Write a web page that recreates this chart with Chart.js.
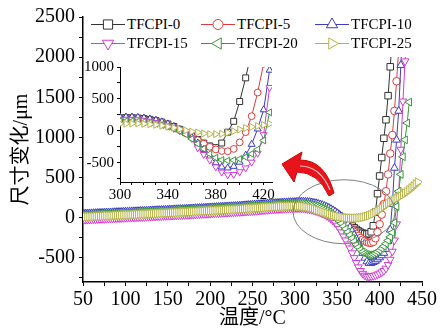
<!DOCTYPE html>
<html>
<head>
<meta charset="utf-8">
<title>TFCPI 尺寸变化</title>
<script src="https://cdn.jsdelivr.net/npm/chart.js@4.4.0/dist/chart.umd.min.js"></script>
<style>
  html, body { margin: 0; padding: 0; background: #fff; }
  #wrap { position: relative; width: 440px; height: 334px; overflow: hidden; }
  #mainChart { position: absolute; left: 0; top: 0; }
  #insetChart { position: absolute; left: 80px; top: 55px; }
  #legend {
    position: absolute; left: 86px; top: 10px; width: 350px; height: 47px;
    background: #fff; font: 400 15px "Liberation Serif", "Times New Roman", serif; color: #000;
  }
  .item { position: absolute; height: 18px; display: flex; align-items: center; white-space: nowrap; }
  .item canvas { display: block; margin-right: 1px; }
</style>
</head>
<body>
<div id="wrap">
  <canvas id="mainChart" width="440" height="334"></canvas>
  <div id="legend"></div>
  <canvas id="insetChart" width="200" height="150"></canvas>
</div>
<script>
// ============================================================
// Dimensional change vs temperature, TFCPI films (main + inset)
// ============================================================

const seriesNames = ['TFCPI-0', 'TFCPI-5', 'TFCPI-10', 'TFCPI-15', 'TFCPI-20', 'TFCPI-25'];

// --- main plot data: temperature (°C) and dimension change (μm) ---
const mainTemps = [
  50, 52.5, 55, 57.5, 60, 62.5, 65, 67.5, 70, 72.5,
  75, 77.5, 80, 82.5, 85, 87.5, 90, 92.5, 95, 97.5,
  100, 102.5, 105, 107.5, 110, 112.5, 115, 117.5, 120, 122.5,
  125, 127.5, 130, 132.5, 135, 137.5, 140, 142.5, 145, 147.5,
  150, 152.5, 155, 157.5, 160, 162.5, 165, 167.5, 170, 172.5,
  175, 177.5, 180, 182.5, 185, 187.5, 190, 192.5, 195, 197.5,
  200, 202.5, 205, 207.5, 210, 212.5, 215, 217.5, 220, 222.5,
  225, 227.5, 230, 232.5, 235, 237.5, 240, 242.5, 245, 247.5,
  250, 252.5, 255, 257.5, 260, 262.5, 265, 267.5, 270, 272.5,
  275, 277.5, 280, 282.5, 285, 287.5, 290, 292.5, 295, 297.5,
  300,
  302.5, 305, 307.5, 310, 312.5, 315, 317.5, 320, 322.5, 325,
  327.5, 330, 332.5, 335, 337.5, 340, 342.5, 345, 347.5, 350,
  352.5, 355, 357.5, 360, 362.5, 365, 367.5, 370, 372.5, 375,
  377.5, 380, 382.5, 385, 387.5, 390, 392.5, 395, 397.5, 400,
  402.5, 405, 407.5, 410, 412.5, 415, 417.5, 420, 422.5, 425,
  427.5, 430, 432.5, 435, 437.5, 440, 442.5, 445
];

const mainTFCPI0 = [
  45, 46, 47, 49, 50, 51, 52, 54, 55, 56,
  57, 59, 60, 61, 62, 64, 65, 66, 67, 69,
  70, 71, 72, 74, 75, 76, 77, 79, 80, 81,
  82, 84, 85, 86, 87, 89, 90, 91, 92, 94,
  95, 96, 97, 99, 100, 102, 103, 104, 105, 107,
  108, 110, 111, 113, 114, 116, 117, 119, 120, 122,
  123, 125, 126, 128, 129, 131, 132, 134, 135, 137,
  138, 140, 141, 143, 145, 147, 149, 151, 153, 155,
  157, 159, 161, 163, 165, 167, 169, 171, 173, 175,
  177, 179, 180, 182, 183, 185, 186, 188, 189, 190,
  191,
  193, 194, 194, 193, 191, 188, 184, 179, 173, 166,
  158, 149, 139, 128, 116, 103, 89, 74, 58, 41,
  23, 4, -16, -37, -58, -80, -102, -124, -145, -164,
  -180, -192, -200, -203, -198, -175, -100, 70, 300, 520,
  750, 990, 1220, 1520, 1880, 2250, 2620, null, null, null,
  null, null, null, null, null, null, null, null
];

const mainTFCPI5 = [
  5, 6, 7, 8, 10, 11, 12, 13, 14, 15,
  16, 17, 18, 19, 20, 21, 22, 23, 24, 25,
  26, 27, 29, 30, 31, 32, 33, 34, 35, 36,
  37, 38, 40, 41, 42, 43, 44, 45, 47, 48,
  50, 51, 53, 54, 56, 57, 59, 60, 62, 63,
  65, 66, 68, 69, 71, 72, 74, 75, 77, 78,
  80, 82, 84, 86, 88, 90, 92, 94, 96, 98,
  100, 102, 104, 106, 108, 110, 112, 114, 117, 119,
  122, 124, 127, 129, 132, 134, 137, 139, 142, 144,
  147, 149, 152, 154, 157, 159, 162, 164, 166, 168,
  170,
  172, 173, 173, 172, 170, 167, 163, 158, 152, 145,
  137, 128, 118, 107, 95, 82, 68, 52, 35, 17,
  -3, -25, -48, -72, -97, -123, -150, -177, -203, -228,
  -252, -273, -290, -303, -311, -312, -300, -255, -180, -80,
  40, 170, 330, 540, 800, 1030, 1330, 1700, 2100, 2500,
  2900, null, null, null, null, null, null, null
];

const mainTFCPI10 = [
  50, 51, 52, 54, 55, 56, 57, 59, 60, 61,
  62, 64, 65, 66, 67, 69, 70, 71, 72, 74,
  75, 76, 77, 79, 80, 81, 82, 84, 85, 86,
  87, 89, 90, 91, 92, 94, 95, 96, 97, 99,
  100, 101, 102, 104, 105, 107, 108, 109, 110, 112,
  113, 115, 116, 118, 119, 121, 122, 124, 125, 127,
  128, 130, 131, 133, 134, 136, 137, 139, 140, 142,
  143, 145, 146, 148, 150, 152, 154, 156, 158, 160,
  162, 164, 166, 168, 170, 172, 174, 176, 178, 180,
  182, 184, 185, 187, 188, 190, 191, 193, 194, 195,
  196,
  198, 200, 200, 200, 199, 197, 194, 190, 185, 180,
  173, 165, 156, 146, 135, 122, 108, 92, 75, 55,
  33, 10, -15, -45, -80, -120, -165, -215, -265, -320,
  -380, -440, -500, -545, -565, -565, -555, -540, -520, -495,
  -470, -440, -390, -290, -150, 170, 620, 970, 1330, 1900,
  2400, 2900, null, null, null, null, null, null
];

const mainTFCPI15 = [
  -25, -24, -23, -21, -20, -19, -18, -16, -15, -14,
  -13, -11, -10, -9, -8, -6, -5, -4, -3, -1,
  0, 1, 2, 4, 5, 6, 7, 9, 10, 11,
  12, 14, 15, 16, 17, 19, 20, 21, 23, 24,
  25, 26, 28, 29, 30, 32, 33, 35, 36, 37,
  38, 40, 41, 42, 44, 45, 47, 48, 49, 51,
  52, 54, 55, 57, 58, 60, 61, 63, 64, 66,
  67, 69, 70, 72, 73, 75, 76, 78, 80, 82,
  84, 86, 88, 90, 92, 94, 96, 98, 100, 102,
  104, 106, 108, 110, 111, 113, 114, 116, 117, 118,
  119,
  120, 120, 119, 117, 114, 110, 105, 99, 92, 84,
  75, 65, 53, 40, 25, 8, -12, -35, -62, -95,
  -135, -180, -230, -280, -330, -380, -440, -500, -560, -615,
  -660, -695, -718, -730, -732, -728, -722, -715, -705, -692,
  -678, -660, -630, -585, -520, -420, -280, -80, 300, 850,
  1450, 1950, 2400, 2900, null, null, null, null
];

const mainTFCPI20 = [
  35, 36, 37, 39, 40, 41, 42, 44, 45, 46,
  47, 49, 50, 51, 52, 54, 55, 56, 57, 59,
  60, 61, 62, 64, 65, 66, 67, 69, 70, 71,
  72, 74, 75, 76, 77, 79, 80, 81, 82, 84,
  85, 86, 87, 89, 90, 92, 93, 94, 95, 97,
  98, 100, 101, 103, 104, 106, 107, 109, 110, 112,
  113, 115, 116, 118, 119, 121, 122, 124, 125, 127,
  128, 130, 131, 133, 135, 137, 139, 141, 143, 145,
  147, 149, 151, 153, 155, 157, 159, 161, 163, 165,
  167, 169, 170, 172, 173, 175, 176, 177, 178, 179,
  180,
  181, 181, 180, 178, 175, 171, 166, 160, 153, 145,
  136, 126, 114, 101, 86, 70, 52, 32, 10, -15,
  -42, -72, -105, -140, -177, -215, -255, -295, -333, -368,
  -400, -425, -445, -457, -462, -460, -452, -440, -424, -405,
  -382, -355, -322, -283, -238, -185, -60, 140, 330, 540,
  760, 970, 1180, 1440, null, null, null, null
];

const mainTFCPI25 = [
  10, 11, 12, 14, 15, 16, 17, 19, 20, 21,
  22, 24, 25, 26, 27, 29, 30, 31, 32, 34,
  35, 36, 37, 39, 40, 41, 42, 44, 45, 46,
  47, 49, 50, 51, 52, 54, 55, 56, 57, 59,
  60, 61, 63, 64, 65, 67, 68, 70, 71, 72,
  73, 75, 76, 78, 79, 81, 82, 84, 85, 86,
  87, 89, 90, 92, 93, 95, 96, 98, 99, 101,
  102, 104, 105, 107, 108, 110, 111, 113, 115, 117,
  118, 120, 122, 124, 125, 127, 129, 131, 132, 134,
  135, 137, 138, 140, 141, 142, 143, 144, 145, 146,
  146,
  146, 145, 143, 140, 136, 131, 125, 118, 110, 102,
  93, 84, 75, 66, 57, 48, 40, 32, 25, 18,
  12, 7, 3, 0, -2, -4, -5, -5, -4, -2,
  1, 5, 11, 18, 27, 38, 51, 66, 83, 101,
  120, 140, 159, 177, 194, 210, 225, 240, 255, 270,
  287, 305, 325, 347, 370, 395, 420, 445
];

// --- inset data (300-425 °C) ---
const insetTemps = [
  300, 305, 310, 315, 320, 325, 330, 335, 340, 345,
  350, 355, 360, 365, 370, 375, 380, 385, 390, 395,
  400, 405, 410, 415, 420, 425
];
const insetTFCPI0 = [205, 207, 206, 202, 193, 180, 162, 138, 108, 70,
  25, -25, -80, -135, -190, -235, -262, -190, -20, 150,
  460, 830, 1250, null, null, null];
const insetTFCPI5 = [190, 192, 190, 185, 176, 162, 143, 118, 88, 52,
  10, -38, -90, -145, -200, -250, -290, -315, -318, -282,
  -180, -20, 230, 600, 1050, null];
const insetTFCPI10 = [215, 218, 217, 212, 203, 188, 168, 142, 110, 70,
  22, -35, -105, -190, -290, -400, -500, -565, -580, -555,
  -490, -380, -210, 30, 330, 950];
const insetTFCPI15 = [180, 182, 180, 175, 165, 150, 130, 105, 75, 40,
  0, -35, -120, -265, -370, -455, -565, -645, -688, -682,
  -640, -580, -490, -350, -60, 680];
const insetTFCPI20 = [150, 152, 152, 148, 140, 128, 112, 92, 66, 35,
  0, -55, -125, -200, -280, -360, -420, -455, -465, -458,
  -440, -410, -360, -290, -150, 290];
const insetTFCPI25 = [110, 112, 115, 115, 110, 104, 95, 82, 66, 48,
  28, 8, -10, -25, -40, -50, -52, -45, -28, -5,
  22, 45, 62, 76, 92, 110];

// --- tick values ---
const mainXTicks = [50, 75, 100, 125, 150, 175, 200, 225, 250, 275, 300, 325, 350, 375, 400, 425, 450];
const mainYTicks = [-750, -500, -250, 0, 250, 500, 750, 1000, 1250, 1500, 1750, 2000, 2250, 2500];
const insetXTicks = [300, 310, 320, 330, 340, 350, 360, 370, 380, 390, 400, 410, 420];
const insetYTicks = [-750, -500, -250, 0, 250, 500, 750, 1000];

// --- styles ---
const COLORS = ['#333333', '#dd3b3b', '#3b3bc4', '#d23ad2', '#389838', '#b5b248'];
const POINT_STYLES = ['rect', 'circle', 'triangle', 'triangle', 'triangle', 'triangle'];
const POINT_ROT = [0, 0, 0, 180, 270, 90];
const MAIN_RADIUS = [4.6, 3.8, 4.5, 4.5, 4.5, 5];
const INSET_RADIUS = [4.2, 3.4, 4, 4, 4, 4];
const SERIF = "'Liberation Serif', 'Times New Roman', serif";
const CJK = "'Liberation Serif', 'Noto Sans CJK SC', serif";

const mainSeries = [mainTFCPI0, mainTFCPI5, mainTFCPI10, mainTFCPI15, mainTFCPI20, mainTFCPI25];
const insetSeries = [insetTFCPI0, insetTFCPI5, insetTFCPI10, insetTFCPI15, insetTFCPI20, insetTFCPI25];

function toPoints(xs, ys) {
  const pts = [];
  xs.forEach((x, i) => {
    if (ys[i] !== null) pts.push({ x: x, y: ys[i] });
  });
  return pts;
}

function buildDatasets(xs, seriesList, radii) {
  return seriesList.map((ys, i) => ({
    label: seriesNames[i],
    data: toPoints(xs, ys),
    borderColor: COLORS[i],
    backgroundColor: '#fff',
    borderWidth: 1,
    pointStyle: POINT_STYLES[i],
    pointRotation: POINT_ROT[i],
    pointRadius: radii[i],
    pointHoverRadius: radii[i],
    pointBorderWidth: 1,
    pointBorderColor: COLORS[i],
    pointBackgroundColor: '#fff',
    tension: 0,
    fill: false,
    order: 5 - i // TFCPI-25 ends up on top, like the original
  }));
}

function axis(opts) {
  return {
    type: 'linear',
    min: opts.min,
    max: opts.max,
    afterBuildTicks: (ax) => { ax.ticks = opts.ticks.map(v => ({ value: v })); },
    afterFit: opts.fit,
    grid: { drawOnChartArea: false, drawTicks: true, tickLength: opts.tickLen, color: '#000' },
    border: { display: true, color: '#000', width: opts.border },
    ticks: {
      autoSkip: false,
      maxRotation: 0,
      padding: opts.pad,
      color: '#000',
      font: { family: SERIF, size: opts.fontSize },
      callback: (v) => opts.showLabel(v) ? String(v) : ''
    },
    title: opts.title || { display: false }
  };
}

// ellipse + red arrow that point from the dip to the inset
const calloutPlugin = {
  id: 'callout',
  afterDatasetsDraw(chart) {
    const ctx = chart.ctx;
    const cx = chart.scales.x.getPixelForValue(358);
    const cy = chart.scales.y.getPixelForValue(75);
    ctx.save();
    ctx.beginPath();
    ctx.ellipse(cx, cy, 51, 32, 0, 0, Math.PI * 2);
    ctx.strokeStyle = '#808080';
    ctx.lineWidth = 1;
    ctx.stroke();

    // arrow
    ctx.beginPath();
    ctx.moveTo(282, 164);
    ctx.lineTo(302, 152);
    ctx.lineTo(300, 160);
    ctx.quadraticCurveTo(325, 160, 334, 193);
    ctx.lineTo(329, 196);
    ctx.quadraticCurveTo(318, 172, 297, 172);
    ctx.lineTo(294, 182);
    ctx.closePath();
    ctx.fillStyle = '#e8141b';
    ctx.fill();
    ctx.strokeStyle = '#d00000';
    ctx.lineWidth = 1;
    ctx.stroke();
    ctx.beginPath();
    ctx.moveTo(300, 166);
    ctx.quadraticCurveTo(320, 166, 330, 190);
    ctx.strokeStyle = '#ffd0d0';
    ctx.lineWidth = 1.2;
    ctx.stroke();
    ctx.restore();
  }
};

// main chart
new Chart(document.getElementById('mainChart'), {
  type: 'line',
  data: { datasets: buildDatasets(mainTemps, mainSeries, MAIN_RADIUS) },
  options: {
    responsive: false,
    animation: false,
    events: [],
    layout: { padding: { left: 0, right: 18, top: 17, bottom: 0 } },
    plugins: { legend: { display: false }, tooltip: { enabled: false } },
    scales: {
      x: axis({
        min: 50, max: 450, ticks: mainXTicks, tickLen: 4, border: 1.5, pad: 2, fontSize: 20,
        showLabel: v => v % 50 === 0,
        fit: (ax) => { ax.height = 52; },
        title: { display: true, text: '温度/°C', color: '#000',
          font: { family: CJK, size: 20 }, padding: { top: 0, bottom: 3 } }
      }),
      y: axis({
        min: -800, max: 2500, ticks: mainYTicks, tickLen: 4, border: 1.5, pad: 4, fontSize: 20,
        showLabel: v => v % 500 === 0,
        fit: (ax) => { ax.width = 83; },
        title: { display: true, text: '尺寸变化/μm', color: '#000',
          font: { family: CJK, size: 20 }, padding: { top: 10, bottom: 0 } }
      })
    }
  },
  plugins: [calloutPlugin]
});

// inset chart
new Chart(document.getElementById('insetChart'), {
  type: 'line',
  data: { datasets: buildDatasets(insetTemps, insetSeries, INSET_RADIUS) },
  options: {
    responsive: false,
    animation: false,
    events: [],
    layout: { padding: { left: 0, right: 8, top: 9, bottom: 0 } },
    plugins: { legend: { display: false }, tooltip: { enabled: false } },
    scales: {
      x: axis({
        min: 300, max: 427, ticks: insetXTicks, tickLen: 3, border: 1, pad: 1, fontSize: 15,
        showLabel: v => (v - 300) % 40 === 0,
        fit: (ax) => { ax.height = 23; }
      }),
      y: axis({
        min: -800, max: 1000, ticks: insetYTicks, tickLen: 3, border: 1, pad: 3, fontSize: 15,
        showLabel: v => v % 500 === 0,
        fit: (ax) => { ax.width = 40; }
      })
    }
  }
});

// legend (two rows, three columns, white box over the plot)
const legend = document.getElementById('legend');
const LEGEND_COL_X = [4, 114, 228];
const LEGEND_ROW_Y = [5, 24];
seriesNames.forEach((name, i) => {
  const item = document.createElement('div');
  item.className = 'item';
  item.style.left = LEGEND_COL_X[i % 3] + 'px';
  item.style.top = LEGEND_ROW_Y[Math.floor(i / 3)] + 'px';

  const sym = document.createElement('canvas');
  sym.width = 36; sym.height = 18;
  const c = sym.getContext('2d');
  c.strokeStyle = COLORS[i];
  c.lineWidth = 1;
  c.beginPath(); c.moveTo(1, 9.5); c.lineTo(35, 9.5); c.stroke();
  c.fillStyle = '#fff';
  Chart.helpers.drawPoint(c, {
    pointStyle: POINT_STYLES[i],
    rotation: POINT_ROT[i],
    radius: POINT_STYLES[i] === 'circle' ? 5 : 6.5,
    borderWidth: 1
  }, 18, 9.5);

  const txt = document.createElement('span');
  txt.textContent = name;
  item.appendChild(sym);
  item.appendChild(txt);
  legend.appendChild(item);
});
</script>
</body>
</html>
